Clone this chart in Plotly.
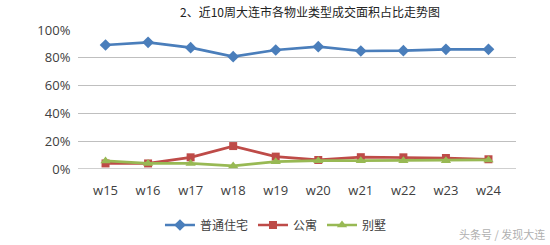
import plotly.graph_objects as go

weeks = ["w15", "w16", "w17", "w18", "w19", "w20", "w21", "w22", "w23", "w24"]
putong = [0.892, 0.911, 0.873, 0.808, 0.856, 0.880, 0.849, 0.851, 0.861, 0.861]
gongyu = [0.040, 0.040, 0.084, 0.165, 0.089, 0.065, 0.085, 0.084, 0.079, 0.070]
bieshu = [0.058, 0.040, 0.040, 0.022, 0.053, 0.060, 0.060, 0.060, 0.060, 0.065]
series_names = ["普通住宅", "公寓", "别墅"]
y_ticks = [0, 0.2, 0.4, 0.6, 0.8, 1.0]
y_tick_text = ["0%", "20%", "40%", "60%", "80%", "100%"]

cjk = "Noto Sans CJK SC"
lat = "Open Sans, " + cjk

fig = go.Figure()
fig.add_trace(go.Scatter(x=weeks, y=putong, name=series_names[0], mode="lines+markers",
                         line=dict(color="#4a7ebb", width=2.7),
                         marker=dict(symbol="diamond", size=9, color="#4a7ebb")))
fig.add_trace(go.Scatter(x=weeks, y=gongyu, name=series_names[1], mode="lines+markers",
                         line=dict(color="#be4b48", width=2.7),
                         marker=dict(symbol="square", size=8, color="#be4b48")))
fig.add_trace(go.Scatter(x=weeks, y=bieshu, name=series_names[2], mode="lines+markers",
                         line=dict(color="#98b954", width=2.7),
                         marker=dict(symbol="triangle-up", size=9, color="#98b954")))

fig.update_layout(
    width=550, height=245,
    margin=dict(l=78, r=34, t=30, b=76, autoexpand=False),
    paper_bgcolor="white", plot_bgcolor="white",
    showlegend=True,
    legend=dict(orientation="h", xref="paper", x=0.452, xanchor="center",
                yref="container", y=1 - 225 / 245, yanchor="middle",
                font=dict(family=cjk, size=12, color="#404040"),
                itemwidth=30, tracegroupgap=0, bgcolor="rgba(0,0,0,0)"),
    font=dict(family=lat, size=12, color="#404040"),
)
fig.update_xaxes(type="category", showgrid=False, showline=False, zeroline=False,
                 automargin=False,
                 ticks="outside", ticklen=9, tickcolor="rgba(0,0,0,0)",
                 tickfont=dict(family=lat, size=13, color="#404040"))
fig.update_yaxes(range=[0, 1.0], tickvals=y_ticks, ticktext=y_tick_text,
                 automargin=False,
                 showgrid=True, gridcolor="#bfbfbf", gridwidth=1.3, zeroline=False,
                 showline=False, ticks="outside", ticklen=4, tickcolor="rgba(0,0,0,0)",
                 tickfont=dict(family=lat, size=13, color="#404040"))
fig.add_hline(y=0, line=dict(color="#bfbfbf", width=1.3), layer="below")

fig.add_annotation(text="2、近10周大连市各物业类型成交面积占比走势图", xref="paper", yref="paper",
                   x=0.53, y=1.0 + 29 / 139, xanchor="center", yanchor="top", showarrow=False,
                   font=dict(family=cjk, size=12, color="#222222"))
fig.add_annotation(text="头条号 / 发现大连", xref="paper", yref="paper",
                   x=1.07, y=-0.47, xanchor="right", yanchor="middle", showarrow=False,
                   font=dict(family=cjk, size=11, color="#b0b0b0"))

fig.write_html("out.html")
